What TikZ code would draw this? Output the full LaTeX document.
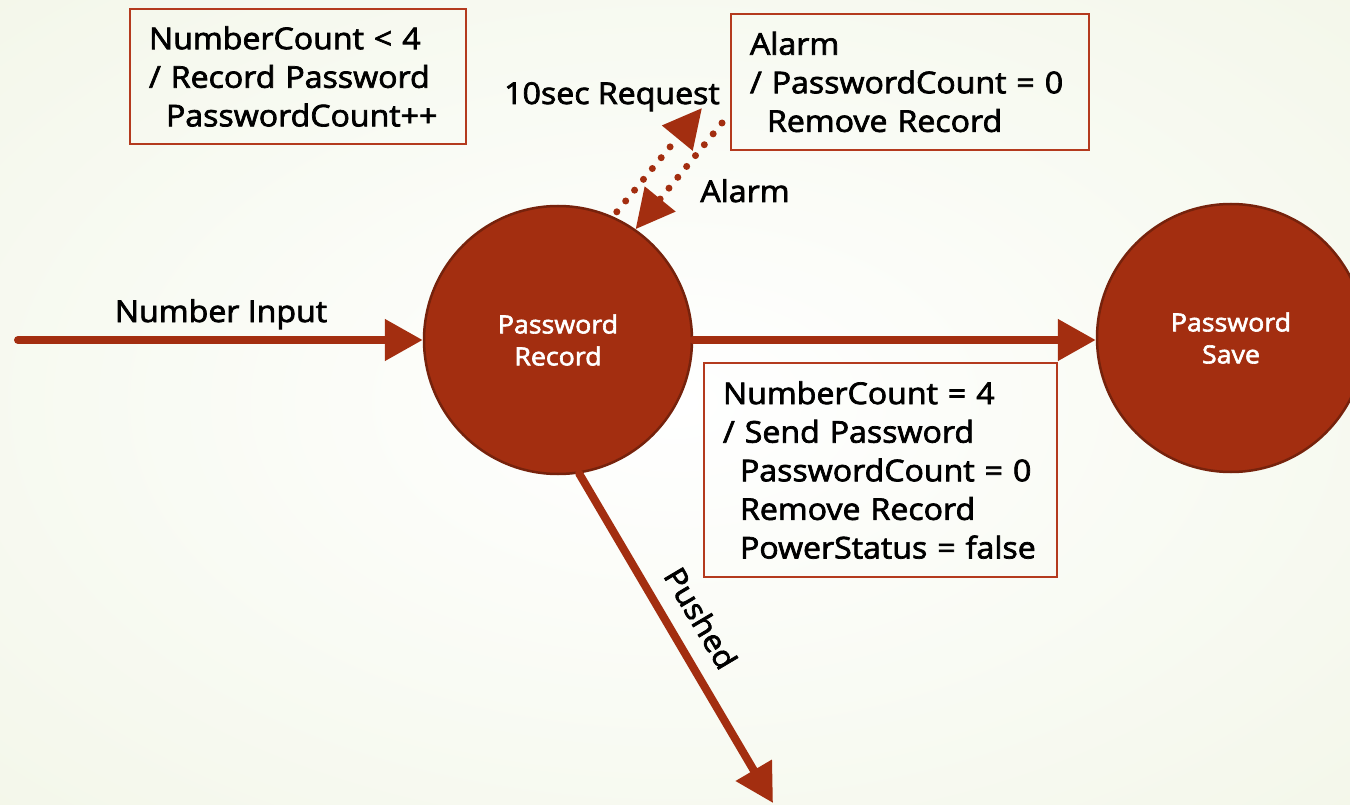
\documentclass[tikz,border=0pt]{standalone}
\usepackage{fontspec}
\setmainfont{Open Sans}[FakeBold=2.4,FakeStretch=1.07]
\usetikzlibrary{arrows.meta}
\definecolor{rust}{RGB}{163,46,16}
\definecolor{rustdark}{RGB}{118,34,12}
\definecolor{boxline}{RGB}{180,58,30}
\definecolor{bgout}{RGB}{232,239,213}
\colorlet{bgmid}{white!75!bgout}
\pgfdeclareradialshading{bgshade}{\pgfpoint{0bp}{0bp}}{color(0bp)=(white); color(18bp)=(bgmid); color(71bp)=(bgout)}
\tikzset{
  state/.style={circle, fill=rust, draw=rustdark, line width=2.5pt, minimum size=268pt, inner sep=0pt,
    text=white, align=center, font=\fontsize{25}{32}\selectfont},
  flow/.style={draw=rust, line width=8pt, line cap=round, -{Triangle[length=38pt,width=40pt]}},
  dotflow/.style={draw=rust, line width=7pt, line cap=round, dash pattern=on 0pt off 14pt,
    -{Triangle[length=39pt,width=38pt]}},
  lbl/.style={font=\fontsize{30}{38.6}\selectfont, text=black, inner sep=0pt},
  guard/.style={draw=boxline, line width=1.6pt, font=\fontsize{30}{38.6}\selectfont, text=black,
    align=left, inner xsep=19pt, inner ysep=0pt}
}
\begin{document}
\begin{tikzpicture}[x=1pt,y=-1pt]
\shade[shading=bgshade] (0,0) rectangle (1350,805);
\useasboundingbox (0,0) rectangle (1350,805);

\node[state] (rec) at (558,340) {Password\\Record};
\node[state] (save) at (1231,338) {Password\\Save};

\coordinate (inp) at (18,340);
\draw[flow] (inp) -- (rec.west);
\draw[flow] (rec.east) -- (rec.east -| save.west);
\coordinate (pend) at (773,803);
\draw[flow] (rec.-81.5) -- (pend);

\coordinate (reqtip) at (702,108);
\coordinate (alarmsrc) at (722,123);
\draw[dotflow, shorten <=6pt] (rec.66) -- (reqtip);
\draw[dotflow] (alarmsrc) -- (rec.55);

\node[lbl, anchor=base] (lin) at (221,322) {Number Input};
\node[lbl, anchor=base] (lreq) at (612,104) {10sec Request};
\node[lbl, anchor=base] (lal) at (745,202) {Alarm};
\node[lbl, rotate=-59.3] (lpush) at (701,618) {Pushed};

\node[guard, text width=298pt, minimum height=135pt] (g1) at (298,76.5)
  {NumberCount < 4\\/ Record Password\\\hspace*{17pt}PasswordCount++};
\node[guard, text width=320pt, minimum height=136pt] (g2) at (910,82)
  {Alarm\\/ PasswordCount = 0\\\hspace*{17pt}Remove Record};
\node[guard, text width=315pt, minimum height=214pt] (g3) at (880.5,470)
  {NumberCount = 4\\/ Send Password\\\hspace*{17pt}PasswordCount = 0\\\hspace*{17pt}Remove Record\\\hspace*{17pt}PowerStatus = false};
\end{tikzpicture}
\end{document}
